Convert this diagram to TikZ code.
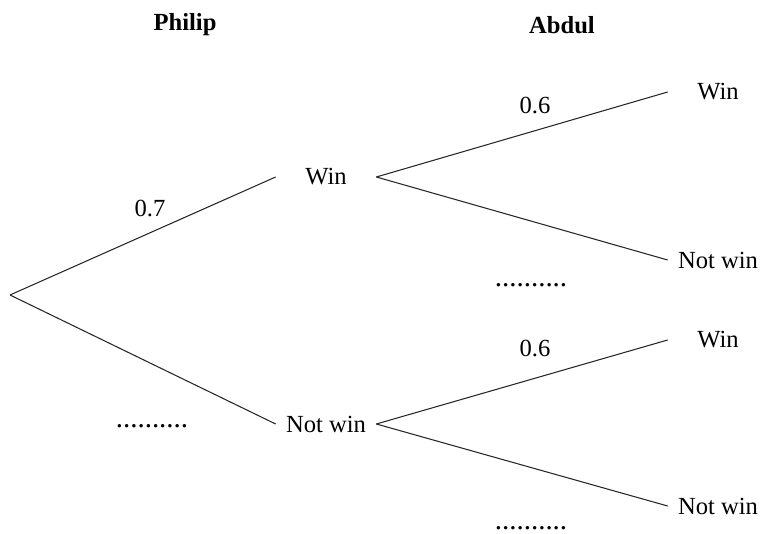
\documentclass[tikz,border=0pt]{standalone}
\usepackage{fontspec}
\setmainfont{Liberation Serif}
\usepackage{tikz}
\usetikzlibrary{positioning}
\tikzstyle{outcome}=[inner sep=0pt, minimum width=2cm, text centered, font=\fontsize{14}{16}\selectfont]
\tikzstyle{prob}=[inner sep=0pt, font=\fontsize{14}{16}\selectfont]
\tikzstyle{blank}=[inner sep=0pt, font=\fontsize{16.5}{18}\selectfont]
\tikzstyle{heading}=[inner sep=0pt, font=\fontsize{14}{16}\selectfont\bfseries]
\tikzstyle{branch}=[draw=black!85, line width=0.6pt]

\begin{document}
\begin{tikzpicture}
            \useasboundingbox (0,0) rectangle (15.26,10.68);
            % headings
            \node (philip)[heading] at (3.7,10.18) {Philip};
            \node (abdul)[heading] at (11.24,10.18) {Abdul};
            % first set of branches
            \coordinate (root) at (0.2,4.78);
            \node (pwin)[outcome] at (6.52,7.14) {Win};
            \node (pnot)[outcome] at (6.52,2.2) {Not win};
            % second set of branches
            \node (wwin)[outcome] at (14.36,8.84) {Win};
            \node (wnot)[outcome] at (14.36,5.48) {Not win};
            \node (nwin)[outcome] at (14.36,3.88) {Win};
            \node (nnot)[outcome] at (14.36,0.56) {Not win};
            \draw[branch] (root) -- (pwin.west);
            \draw[branch] (root) -- (pnot.west);
            \draw[branch] (pwin.east) -- (wwin.west);
            \draw[branch] (pwin.east) -- (wnot.west);
            \draw[branch] (pnot.east) -- (nwin.west);
            \draw[branch] (pnot.east) -- (nnot.west);
            % probabilities
            \node (p1)[prob] at (3.0,6.52) {0.7};
            \node (p2)[prob] at (10.7,8.58) {0.6};
            \node (p3)[prob] at (10.7,3.72) {0.6};
            \node (d1)[blank] at (3.04,2.16) {..........};
            \node (d2)[blank] at (10.62,4.98) {..........};
            \node (d3)[blank] at (10.62,0.12) {..........};
        \end{tikzpicture}
\end{document}
